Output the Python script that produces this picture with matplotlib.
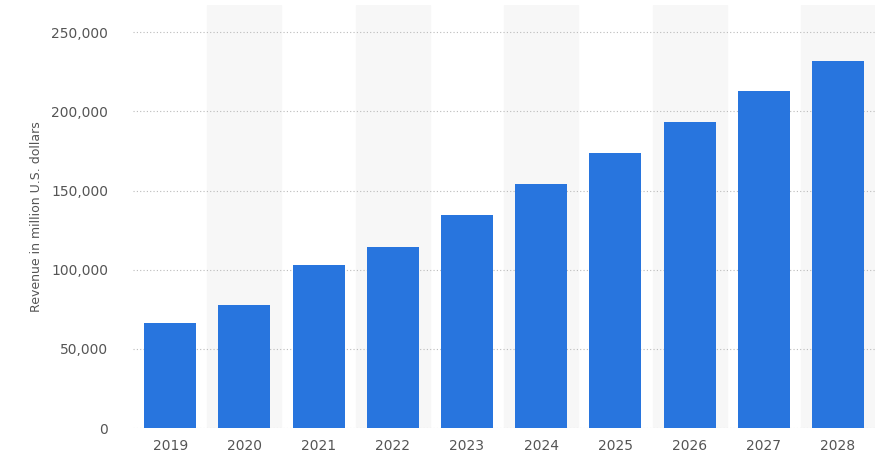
import matplotlib.pyplot as plt

years = ["2019", "2020", "2021", "2022", "2023", "2024", "2025", "2026", "2027", "2028"]
revenue = [66300, 77600, 102900, 114200, 134400, 154000, 173500, 193100, 212700, 231600]
yticks = [0, 50000, 100000, 150000, 200000, 250000]

fig = plt.figure(figsize=(8.93, 4.70), dpi=100)
ax = fig.add_axes([0.149, 0.089, 0.831, 0.9])

x = list(range(len(years)))
# alternating shaded columns
for i in x:
    if i % 2 == 1:
        ax.axvspan(i - 0.5, i + 0.5, color="#f7f7f7", zorder=0)

ax.bar(x, revenue, width=0.7, color="#2875de", zorder=3)

ax.set_xlim(-0.5, len(years) - 0.5)
ax.set_ylim(0, 267000)
ax.set_yticks(yticks)
ax.set_yticklabels([f"{v:,}" for v in yticks])
ax.set_xticks(x)
ax.set_xticklabels(years)
ax.grid(axis="y", linestyle=(0, (1, 2)), color="#bbbbbb", linewidth=0.8, zorder=1)
for s in ax.spines.values():
    s.set_visible(False)
ax.tick_params(length=0, colors="#555555", labelsize=10)
ax.tick_params(axis="x", pad=8)
ax.tick_params(axis="y", pad=18)
ax.set_ylabel("Revenue in million U.S. dollars", color="#555555", fontsize=9, labelpad=6)

fig.savefig("out.png", dpi=100)
